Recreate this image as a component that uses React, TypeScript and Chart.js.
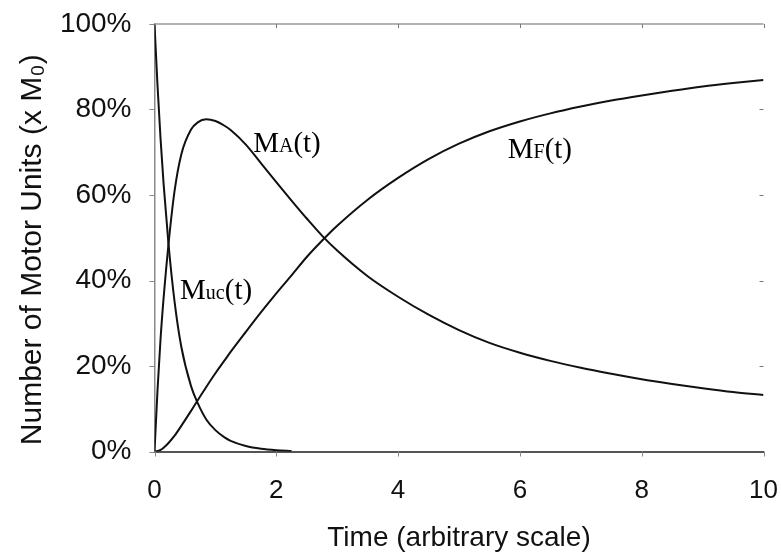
import React, { useEffect, useRef } from 'react';
import { Chart, registerables } from 'chart.js';

Chart.register(...registerables);

// ---- data ----
const timePoints = [0, 0.05, 0.1, 0.15, 0.23, 0.33, 0.44, 0.6, 0.71, 0.85, 1, 1.15, 1.25, 1.5, 1.75, 2, 2.25, 2.5, 2.75, 3, 3.5, 4, 4.5, 5, 5.5, 6, 6.5, 7, 7.5, 8, 8.5, 9, 9.5, 10];
const mucValues: (number | null)[] = [100, 85.5, 73, 62.5, 48.5, 35, 24.5, 15.3, 11.3, 7.5, 5, 3.3, 2.5, 1.3, 0.65, 0.3, 0.1, null, null, null, null, null, null, null, null, null, null, null, null, null, null, null, null, null];
const maValues = [0, 14.5, 26.5, 36, 48.5, 61, 69.5, 75.3, 77, 77.7, 77.3, 76.2, 75.2, 71.8, 67.4, 63, 58.7, 54.5, 50.5, 47, 41, 36.2, 32, 28.4, 25.4, 23.1, 21.2, 19.6, 18.2, 16.9, 15.8, 14.8, 13.9, 13.2];
const mfValues = [0, 0.1, 0.4, 0.9, 2, 3.7, 6, 9.5, 12, 15.1, 18.3, 21.3, 23.3, 28, 32.6, 37, 41.2, 45.5, 49.3, 52.8, 58.9, 64, 68.4, 72, 74.9, 77.2, 79.1, 80.7, 82.1, 83.3, 84.4, 85.4, 86.2, 86.9];
const seriesNames = ['Muc(t)', 'MA(t)', 'MF(t)'];
const xTickValues = [0, 2, 4, 6, 8, 10];
const yTickValues = [0, 20, 40, 60, 80, 100];
const xTitle = 'Time (arbitrary scale)';
const yTitle = 'Number of Motor Units (x M\u2080)';

// curve labels: main letter, small letters, tail, anchor in data space
const curveLabels = [
  { main: 'M', sub: 'A', tail: '(t)', t: 1.62, v: 70.1 },
  { main: 'M', sub: 'F', tail: '(t)', t: 5.8, v: 68.6 },
  { main: 'M', sub: 'uc', tail: '(t)', t: 0.42, v: 35.6 },
];

const toPoints = (vals: (number | null)[]) =>
  timePoints.map((t, i) => ({ x: t, y: vals[i] }));

const framePlugin = {
  id: 'frameTicks',
  afterDraw(chart: any) {
    const { ctx, chartArea, scales } = chart;
    ctx.save();
    // top frame line
    ctx.strokeStyle = '#9a9a9a';
    ctx.lineWidth = 1.5;
    ctx.beginPath();
    ctx.moveTo(chartArea.left, chartArea.top);
    ctx.lineTo(chartArea.right, chartArea.top);
    ctx.stroke();
    // inner ticks on top and right
    ctx.strokeStyle = '#777';
    ctx.lineWidth = 1;
    ctx.beginPath();
    xTickValues.forEach((v) => {
      const px = Math.round(scales.x.getPixelForValue(v)) + 0.5;
      if (v === 0) return;
      ctx.moveTo(px, chartArea.top);
      ctx.lineTo(px, chartArea.top + 4);
    });
    yTickValues.forEach((v) => {
      const py = Math.round(scales.y.getPixelForValue(v)) + 0.5;
      if (v === 0 || v === 100) return;
      ctx.moveTo(chartArea.right - 4, py);
      ctx.lineTo(chartArea.right, py);
    });
    ctx.stroke();
    // outer ticks on left and bottom
    ctx.strokeStyle = '#888';
    ctx.beginPath();
    yTickValues.forEach((v) => {
      const py = Math.round(scales.y.getPixelForValue(v)) + 0.5;
      ctx.moveTo(chartArea.left - 5, py);
      ctx.lineTo(chartArea.left, py);
    });
    xTickValues.forEach((v) => {
      const px = Math.round(scales.x.getPixelForValue(v)) + 0.5;
      ctx.moveTo(px, chartArea.bottom);
      ctx.lineTo(px, chartArea.bottom + 5);
    });
    ctx.stroke();
    // y axis title (slightly below the axis centre, as in the reference)
    ctx.fillStyle = '#111';
    ctx.font = '30px "Liberation Sans", Arial, sans-serif';
    ctx.textAlign = 'center';
    ctx.textBaseline = 'middle';
    ctx.translate(33, (chartArea.top + chartArea.bottom) / 2 + 12);
    ctx.rotate(-Math.PI / 2);
    ctx.fillText(yTitle, 0, 0);
    ctx.restore();
  },
};

const labelPlugin = {
  id: 'curveLabels',
  afterDatasetsDraw(chart: any) {
    const { ctx, scales } = chart;
    ctx.save();
    ctx.fillStyle = '#000';
    ctx.textBaseline = 'alphabetic';
    ctx.textAlign = 'left';
    const big = '29px "Liberation Serif", "Times New Roman", serif';
    const small = '20px "Liberation Serif", "Times New Roman", serif';
    curveLabels.forEach((l) => {
      let x = scales.x.getPixelForValue(l.t);
      const y = scales.y.getPixelForValue(l.v);
      ctx.font = big;
      ctx.fillText(l.main, x, y);
      x += ctx.measureText(l.main).width;
      ctx.font = small;
      ctx.fillText(l.sub, x, y);
      x += ctx.measureText(l.sub).width;
      ctx.font = big;
      ctx.fillText(l.tail, x, y);
    });
    ctx.restore();
  },
};

export default function App() {
  const ref = useRef<HTMLCanvasElement>(null);
  useEffect(() => {
    if (!ref.current) return;
    const lineStyle = {
      borderColor: '#111',
      borderWidth: 2,
      pointRadius: 0,
      fill: false,
      cubicInterpolationMode: 'monotone' as const,
      spanGaps: false,
    };
    const chart = new Chart(ref.current, {
      type: 'line',
      data: {
        datasets: [
          { label: seriesNames[0], data: toPoints(mucValues), ...lineStyle },
          { label: seriesNames[1], data: toPoints(maValues), ...lineStyle },
          { label: seriesNames[2], data: toPoints(mfValues), ...lineStyle },
        ],
      },
      options: {
        animation: false,
        responsive: false,
        events: [],
        layout: { padding: { left: 0, right: 17.5, top: 24, bottom: 0 } },
        plugins: { legend: { display: false }, tooltip: { enabled: false } },
        scales: {
          x: {
            type: 'linear',
            min: 0,
            max: 10,
            afterFit: (s: any) => { s.height = 104.5; },
            afterBuildTicks: (s: any) => { s.ticks = xTickValues.map((v) => ({ value: v })); },
            border: { display: true, color: '#555', width: 2 },
            grid: { display: true, drawOnChartArea: false, drawTicks: true, tickLength: 24, tickColor: 'rgba(0,0,0,0)', color: 'rgba(0,0,0,0)' },
            ticks: {
              color: '#111',
              padding: 0,
              maxRotation: 0,
              font: { family: '"Liberation Sans", Arial, sans-serif', size: 26 },
            },
            title: {
              display: true,
              text: xTitle,
              color: '#111',
              font: { family: '"Liberation Sans", Arial, sans-serif', size: 28 },
              padding: { top: 0, bottom: 1 },
            },
          },
          y: {
            type: 'linear',
            min: 0,
            max: 100,
            afterFit: (s: any) => { s.width = 154.5; },
            afterBuildTicks: (s: any) => { s.ticks = yTickValues.map((v) => ({ value: v })); },
            border: { display: true, color: '#8a8a8a', width: 1.5 },
            grid: { display: true, drawOnChartArea: false, drawTicks: true, tickLength: 23, tickColor: 'rgba(0,0,0,0)', color: 'rgba(0,0,0,0)' },
            ticks: {
              color: '#111',
              padding: 0,
              callback: (v: any) => v + '%',
              font: { family: '"Liberation Sans", Arial, sans-serif', size: 28 },
            },
            title: { display: false, text: yTitle },
          },
        },
      },
      plugins: [framePlugin, labelPlugin],
    });
    return () => chart.destroy();
  }, []);
  return (
    <div style={{ position: 'absolute', left: 0, top: 0, width: 781, height: 556, background: '#fff' }}>
      <canvas ref={ref} width={781} height={556} style={{ display: 'block' }} />
    </div>
  );
}
